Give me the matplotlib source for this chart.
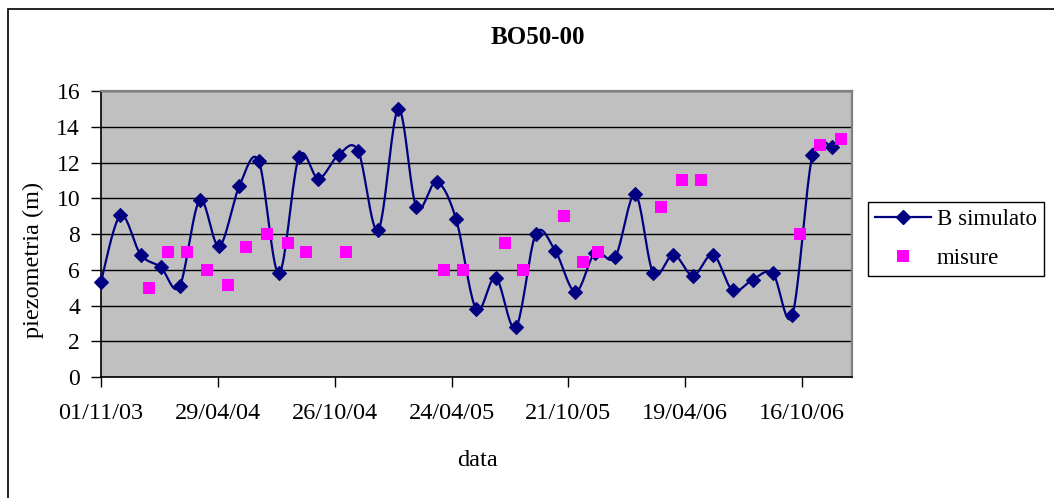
import numpy as np
import pandas as pd
import matplotlib
matplotlib.use("Agg")
import matplotlib.pyplot as plt
import matplotlib.dates as mdates
from matplotlib.lines import Line2D
from matplotlib.patches import Rectangle

plt.rcParams["font.family"] = ["Liberation Serif", "DejaVu Serif"]

# Simulated piezometric level, one value per month (first day of month)
sim_dates = pd.date_range("2003-11-01", "2006-12-01", freq="MS")
sim_values = [5.34, 9.04, 6.85, 6.14, 5.07, 9.89, 7.32, 10.67, 12.08, 5.80,
              12.32, 11.10, 12.43, 12.66, 8.22, 14.98, 9.51, 10.92, 8.84, 3.80,
              5.56, 2.77, 8.01, 7.04, 4.76, 6.95, 6.70, 10.22, 5.80, 6.85,
              5.67, 6.85, 4.85, 5.45, 5.80, 3.46, 12.40, 12.88]

# Field measurements
meas_dates = pd.to_datetime([
    "2004-01-14", "2004-02-12", "2004-03-12", "2004-04-12", "2004-05-14",
    "2004-06-12", "2004-07-13", "2004-08-15", "2004-09-12", "2004-11-13",
    "2005-04-13", "2005-05-11", "2005-07-15", "2005-08-12", "2005-10-15",
    "2005-11-13", "2005-12-05", "2006-03-13", "2006-04-14", "2006-05-13",
    "2006-10-13", "2006-11-13", "2006-12-15"])
meas_values = [5.0, 7.0, 7.0, 6.0, 5.15, 7.25, 8.0, 7.5, 7.0, 7.0,
               6.0, 6.0, 7.5, 6.0, 9.0, 6.45, 7.0, 9.5, 11.0, 11.0,
               8.0, 13.0, 13.3]

tick_dates = pd.date_range("2003-11-01", periods=7, freq="180D")
y_ticks = [0, 2, 4, 6, 8, 10, 12, 14, 16]


def smooth(x, y, n=20):
    """Catmull-Rom spline through the points (spreadsheet-style smoothed line)."""
    x = np.asarray(x, float)
    y = np.asarray(y, float)
    px = np.concatenate([[x[0]], x, [x[-1]]])
    py = np.concatenate([[y[0]], y, [y[-1]]])
    xs, ys = [], []
    t = np.linspace(0, 1, n, endpoint=False)
    for i in range(1, len(px) - 2):
        p0, p1, p2, p3 = (np.array([px[j], py[j]]) for j in range(i - 1, i + 3))
        c1 = p1 + (p2 - p0) / 6
        c2 = p2 - (p3 - p1) / 6
        b = ((1 - t) ** 3)[:, None] * p1 + (3 * (1 - t) ** 2 * t)[:, None] * c1 \
            + (3 * (1 - t) * t ** 2)[:, None] * c2 + (t ** 3)[:, None] * p2
        xs.append(b[:, 0])
        ys.append(b[:, 1])
    xs.append([x[-1]])
    ys.append([y[-1]])
    return np.concatenate(xs), np.concatenate(ys)


W, H = 1054, 498
fig = plt.figure(figsize=(W / 100, H / 100), dpi=100)
fig.patch.set_facecolor("white")

# chart-area frame
fig.add_artist(Rectangle((8 / W, -0.05), 1.1, 1 - 9 / H + 0.05,
                         transform=fig.transFigure, fill=False,
                         edgecolor="black", linewidth=1.2))

left, right, top, bottom = 101, 852, 91, 377
ax = fig.add_axes([left / W, 1 - bottom / H, (right - left) / W, (bottom - top) / H])
ax.set_facecolor("#C0C0C0")

sx = mdates.date2num(sim_dates)
cx, cy = smooth(sx, sim_values)
ax.plot(cx, cy, color="#000080", linewidth=1.6, zorder=3, clip_on=False)
ax.plot(sx, sim_values, linestyle="none", marker="D", markersize=6.8,
        color="#000080", markeredgewidth=0.8, zorder=4, clip_on=False)
ax.plot(mdates.date2num(meas_dates), meas_values, linestyle="none", marker="s",
        markersize=8.6, color="#FF00FF", markeredgewidth=0, zorder=5, clip_on=False)

ax.set_ylim(0, 16)
ax.set_yticks(y_ticks)
ax.set_xlim(mdates.date2num(pd.Timestamp("2003-11-01")),
            mdates.date2num(pd.Timestamp("2007-01-01")))
ax.set_xticks(mdates.date2num(tick_dates))
ax.set_xticklabels([d.strftime("%d/%m/%y") for d in tick_dates])

ax.yaxis.grid(True, color="black", linewidth=1.0)
ax.set_axisbelow(True)
for s in ("left", "bottom"):
    ax.spines[s].set_color("black")
    ax.spines[s].set_linewidth(1.2)
for s in ("top", "right"):
    ax.spines[s].set_color("#808080")
    ax.spines[s].set_linewidth(1.6)

ax.tick_params(axis="both", direction="out", length=7, width=1,
               color="black", labelsize=17)
ax.tick_params(axis="x", labelsize=17.5)
ax.tick_params(axis="y", pad=8)
ax.tick_params(axis="x", pad=12)

fig.text(538 / W, 1 - 37 / H, "BO50-00", ha="center", va="center",
         fontsize=18, fontweight="bold")
fig.text(33 / W, 1 - 260 / H, "piezometria (m)", ha="center", va="center",
         rotation=90, fontsize=17.5)
fig.text(477 / W, 1 - 460 / H, "data", ha="center", va="center", fontsize=17.5)

handles = [
    Line2D([], [], color="#000080", linewidth=1.6, marker="D", markersize=6.8),
    Line2D([], [], linestyle="none", color="#FF00FF", marker="s",
           markersize=8.6, markeredgewidth=0),
]
leg = fig.legend(handles, ["B simulato", "misure"], loc="upper left",
                 bbox_to_anchor=(868 / W, 1 - 202 / H),
                 bbox_transform=fig.transFigure, borderaxespad=0,
                 fontsize=16.5, frameon=True, fancybox=False, framealpha=1,
                 edgecolor="black", handlelength=2.45, handletextpad=0.25,
                 borderpad=0.3, labelspacing=0.8)
leg.get_frame().set_linewidth(1.0)

fig.savefig("out.png", dpi=100)
